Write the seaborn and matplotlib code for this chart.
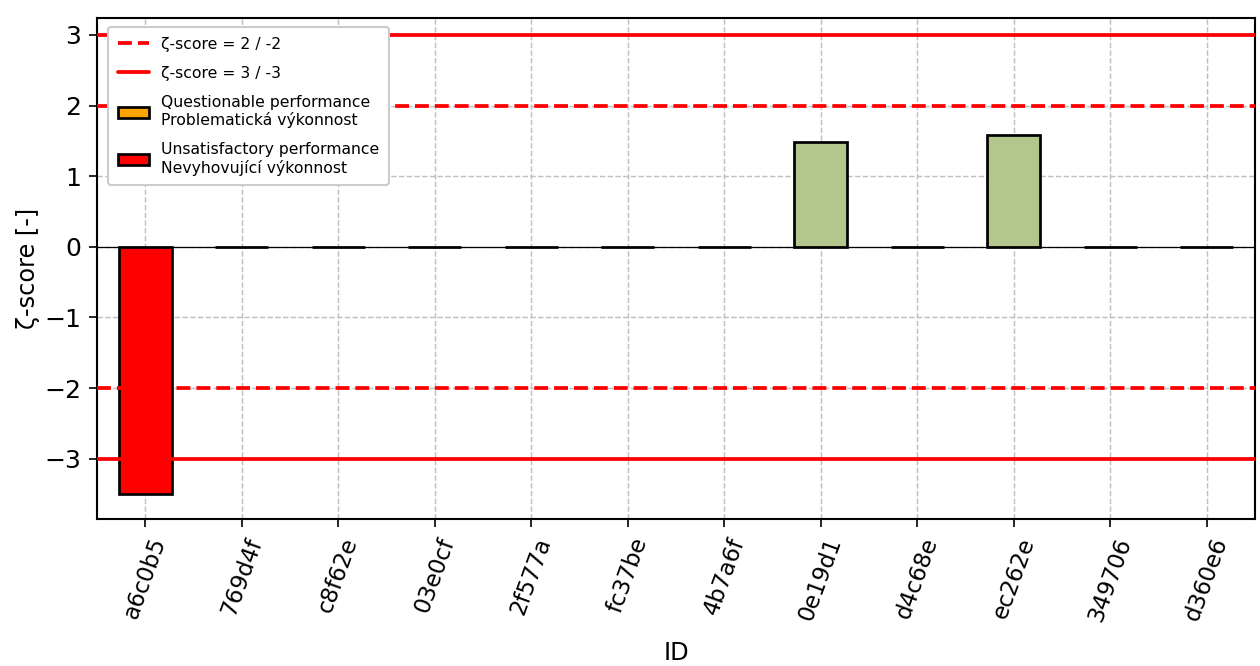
import pandas as pd
import matplotlib
matplotlib.use("Agg")
import matplotlib.pyplot as plt
import seaborn as sns
from matplotlib.lines import Line2D
from matplotlib.patches import Patch

# Data
ids = ['a6c0b5', '769d4f', 'c8f62e', '03e0cf', '2f577a', 'fc37be',
       '4b7a6f', '0e19d1', 'd4c68e', 'ec262e', '349706', 'd360e6']
zeta = [-3.5, 0, 0, 0, 0, 0, 0, 1.48, 0, 1.58, 0, 0]

df = pd.DataFrame({'ID': ids, 'zeta': zeta})

# colour by performance class
def bar_colour(z):
    if abs(z) >= 3:
        return 'red'
    if abs(z) >= 2:
        return 'orange'
    return '#b3c68c'

colours = [bar_colour(z) for z in zeta]

sns.set_style('white')
plt.rcParams['font.family'] = ['DejaVu Sans']
plt.rcParams['text.color'] = 'black'
plt.rcParams['axes.labelcolor'] = 'black'
plt.rcParams['xtick.color'] = 'black'
plt.rcParams['ytick.color'] = 'black'

fig, ax = plt.subplots(figsize=(8.4, 4.44), dpi=150)

sns.barplot(data=df, x='ID', y='zeta', hue='ID', palette=colours, legend=False,
            width=0.55, edgecolor='black', linewidth=1.3, saturation=1, ax=ax)

ax.set_axisbelow(True)
ax.grid(True, axis='both', linestyle='--', color='#c0c0c0', linewidth=0.7)

ax.axhline(0, color='black', linewidth=0.6, zorder=1)
for lvl in (2, -2):
    ax.axhline(lvl, color='red', linestyle='--', linewidth=1.8, zorder=3)
for lvl in (3, -3):
    ax.axhline(lvl, color='red', linestyle='-', linewidth=1.8, zorder=3)

ax.set_xlim(-0.5, len(ids) - 0.5)
ax.set_ylim(-3.85, 3.24)
ax.set_yticks([-3, -2, -1, 0, 1, 2, 3])
ax.tick_params(axis='x', labelrotation=70, labelsize=11, length=4, bottom=True)
ax.tick_params(axis='y', labelsize=12, length=4, left=True)
for lab in ax.get_xticklabels():
    lab.set_ha('center')
ax.set_xlabel('ID', fontsize=11.5, labelpad=8)
ax.set_ylabel('ζ-score [-]', fontsize=11.5, labelpad=2)
for sp in ax.spines.values():
    sp.set_color('black')
    sp.set_linewidth(1.0)

handles = [
    Line2D([0], [0], color='red', linestyle='--', linewidth=1.8, label='ζ-score = 2 / -2'),
    Line2D([0], [0], color='red', linestyle='-', linewidth=1.8, label='ζ-score = 3 / -3'),
    Patch(facecolor='orange', edgecolor='black', linewidth=1.3,
          label='Questionable performance\nProblematická výkonnost'),
    Patch(facecolor='red', edgecolor='black', linewidth=1.3,
          label='Unsatisfactory performance\nNevyhovující výkonnost'),
]
leg = ax.legend(handles=handles, loc='upper left', fontsize=7.5, frameon=True,
                framealpha=1, borderpad=0.6, labelspacing=0.9,
                bbox_to_anchor=(0.003, 0.997))
leg.set_zorder(5)

fig.subplots_adjust(left=0.077, right=0.996, top=0.973, bottom=0.221)
plt.savefig('out.png', dpi=150)
